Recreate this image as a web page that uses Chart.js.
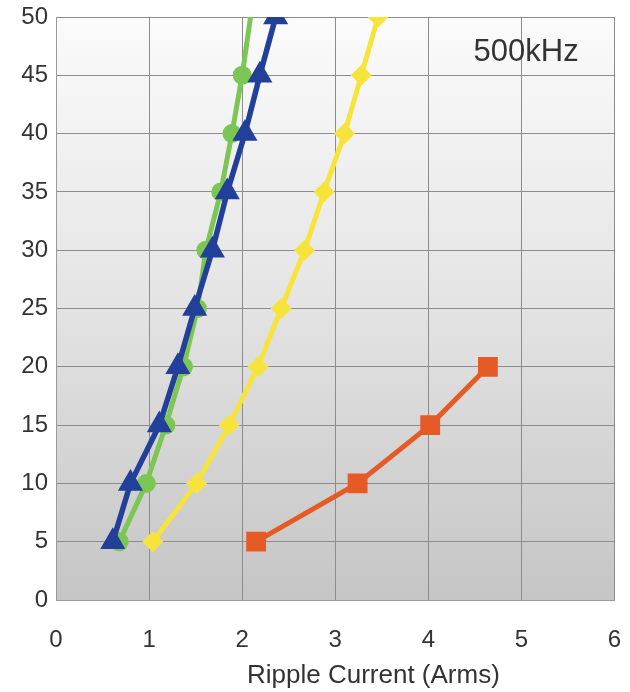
<!DOCTYPE html>
<html>
<head>
<meta charset="utf-8">
<script src="https://cdn.jsdelivr.net/npm/chart.js@4.4.0/dist/chart.umd.min.js"></script>
<style>
  html, body { margin: 0; padding: 0; background: #fff; }
  #wrap { width: 630px; height: 692px; }
</style>
</head>
<body>
<div id="wrap"><canvas id="myChart" width="630" height="692"></canvas></div>
<script>
// values
var outputCurrent = [5, 10, 15, 20, 25, 30, 35, 40, 45, 50];
var greenRipple  = [0.68, 0.97, 1.18, 1.37, 1.52, 1.61, 1.77, 1.89, 2.00, 2.09];
var blueRipple   = [0.61, 0.80, 1.11, 1.31, 1.49, 1.68, 1.84, 2.03, 2.19, 2.36];
var yellowRipple = [1.04, 1.51, 1.86, 2.17, 2.42, 2.67, 2.88, 3.10, 3.28, 3.46];
var orangeCurrent = [5, 10, 15, 20];
var orangeRipple  = [2.15, 3.24, 4.02, 4.64];
var xTicks = [0, 1, 2, 3, 4, 5, 6];
var yTicks = [0, 5, 10, 15, 20, 25, 30, 35, 40, 45, 50];
var freqLabel = '500kHz';
var xTitle = 'Ripple Current (Arms)';

var fontFam = '"Liberation Sans", Arial, sans-serif';

function toPoints(xs, ys) {
    return xs.map(function (x, i) { return { x: x, y: ys[i] }; });
}

// gray gradient behind the plot, frequency label and axis title
var bgPlugin = {
    id: 'bg',
    beforeDraw: function (chart) {
        var a = chart.chartArea, c = chart.ctx;
        var g = c.createLinearGradient(0, a.top, 0, a.bottom);
        g.addColorStop(0, '#fbfbfb');
        g.addColorStop(0.45, '#e6e6e6');
        g.addColorStop(1, '#c5c5c5');
        c.save();
        c.fillStyle = g;
        c.fillRect(a.left, a.top, a.right - a.left, a.bottom - a.top);
        c.restore();
    },
    afterDraw: function (chart) {
        var c = chart.ctx, sx = chart.scales.x, sy = chart.scales.y;
        c.save();
        c.fillStyle = '#333';
        c.textAlign = 'center';
        c.textBaseline = 'middle';
        c.font = '31px ' + fontFam;
        c.fillText(freqLabel, sx.getPixelForValue(5.05), sy.getPixelForValue(47.0));
        c.font = '26px ' + fontFam;
        c.fillText(xTitle, sx.getPixelForValue(3.41), sy.bottom + 76);
        c.restore();
    }
};

var ctx = document.getElementById('myChart').getContext('2d');
var chart = new Chart(ctx, {
    type: 'scatter',
    data: {
        // first dataset is drawn on top
        datasets: [{
            label: 'blue',
            data: toPoints(blueRipple, outputCurrent),
            borderColor: '#22409a',
            backgroundColor: '#22409a',
            pointStyle: 'triangle',
            pointRadius: 9,
            showLine: true,
            borderWidth: 5.5
        }, {
            label: 'green',
            data: toPoints(greenRipple, outputCurrent),
            borderColor: '#7cc653',
            backgroundColor: '#7cc653',
            pointStyle: 'circle',
            pointRadius: [7, 7, 7, 7, 7, 7, 7, 7, 7, 0],
            showLine: true,
            borderWidth: 5
        }, {
            label: 'yellow',
            data: toPoints(yellowRipple, outputCurrent),
            borderColor: '#f6e43c',
            backgroundColor: '#f6e43c',
            pointStyle: 'rectRot',
            pointRadius: 7,
            showLine: true,
            borderWidth: 5
        }, {
            label: 'orange',
            data: toPoints(orangeRipple, orangeCurrent),
            borderColor: '#e65a25',
            backgroundColor: '#e65a25',
            pointStyle: 'rect',
            pointRadius: 10.5,
            showLine: true,
            borderWidth: 5
        }]
    },
    options: {
        responsive: false,
        animation: false,
        layout: { padding: { top: 17, right: 14, left: 0, bottom: 0 } },
        plugins: {
            legend: { display: false },
            tooltip: { enabled: false }
        },
        elements: { point: { borderWidth: 0 } },
        scales: {
            x: {
                type: 'linear',
                min: 0,
                max: 6,
                afterBuildTicks: function (s) { s.ticks = xTicks.map(function (v) { return { value: v }; }); },
                afterFit: function (s) { s.height = 92; s.paddingLeft = 0; s.paddingRight = 0; },
                grid: { color: '#8c8c8c', drawTicks: false },
                border: { color: '#9a9a9a' },
                ticks: {
                    padding: 26,
                    color: '#333',
                    font: { size: 24, family: fontFam }
                }
            },
            y: {
                type: 'linear',
                min: 0,
                max: 50,
                afterBuildTicks: function (s) { s.ticks = yTicks.map(function (v) { return { value: v }; }); },
                afterFit: function (s) { s.width = 56; s.paddingTop = 0; s.paddingBottom = 0; },
                grid: { color: '#8c8c8c', drawTicks: false },
                border: { color: '#9a9a9a' },
                ticks: {
                    padding: 8,
                    color: '#333',
                    font: { size: 24, family: fontFam }
                }
            }
        }
    },
    plugins: [bgPlugin]
});
</script>
</body>
</html>
